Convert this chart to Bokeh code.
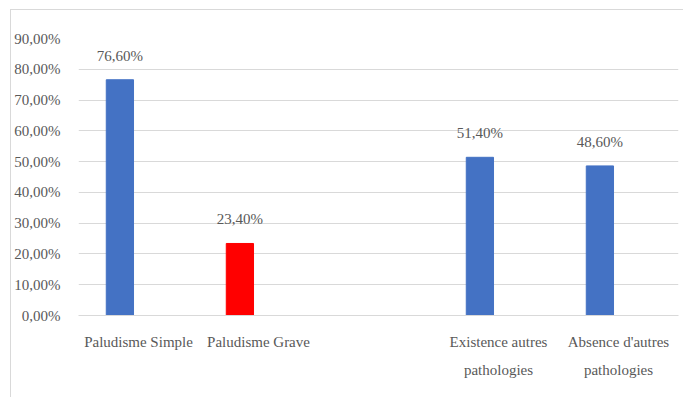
from bokeh.plotting import figure
from bokeh.models import FactorRange, FixedTicker, ColumnDataSource
from bokeh.transform import dodge
from bokeh.embed import file_html
from bokeh.resources import INLINE
from bokeh.core.properties import value

# Data
categories = ["Paludisme Simple", "Paludisme Grave", " ",
              "Existence autres\npathologies", "Absence d'autres\npathologies"]
bar_categories = ["Paludisme Simple", "Paludisme Grave",
                  "Existence autres\npathologies", "Absence d'autres\npathologies"]
values = [76.6, 23.4, 51.4, 48.6]
colors = ["#4472C4", "#FF0000", "#4472C4", "#4472C4"]
y_ticks = [0, 10, 20, 30, 40, 50, 60, 70, 80, 90]

def pct(v):
    return ("%.2f" % v).replace(".", ",") + "%"

labels = [pct(v) for v in values]

FONT = "Liberation Serif"
TXT = "#595959"
GRID = "#d9d9d9"

p = figure(width=673, height=388, x_range=FactorRange(factors=categories),
           y_range=(0, 90), output_backend="svg", toolbar_location=None,
           min_border_left=66, min_border_right=6, min_border_top=28,
           min_border_bottom=83)
p.margin = (9, 0, 0, 10)
p.styles = {"border-left": "1px solid #d9d9d9", "border-top": "1px solid #d9d9d9"}
p.outline_line_color = None
p.background_fill_color = "white"
p.border_fill_color = "white"

src = ColumnDataSource(dict(x=bar_categories, top=values, color=colors, label=labels))
bx = dodge("x", -0.155, range=p.x_range)
p.vbar(x=bx, top="top", width=0.227, color="color", source=src)
p.text(x=bx, y="top", text="label", source=src, y_offset=-24,
       text_align="center", text_baseline="middle",
       text_font=value(FONT), text_font_size="15px", text_color=TXT)

p.xgrid.grid_line_color = None
p.ygrid.grid_line_color = GRID
p.ygrid.grid_line_width = 1

p.yaxis.ticker = FixedTicker(ticks=y_ticks)
p.yaxis.major_label_overrides = {t: pct(t) for t in y_ticks}
p.yaxis.axis_line_color = None
p.yaxis.major_tick_line_color = None
p.yaxis.minor_tick_line_color = None
p.yaxis.major_label_standoff = 12
p.yaxis.major_label_text_font = FONT
p.yaxis.major_label_text_font_size = "15px"
p.yaxis.major_label_text_color = TXT

p.xaxis.axis_line_color = GRID
p.xaxis.major_tick_line_color = None
p.xaxis.minor_tick_line_color = None
p.xaxis.major_label_standoff = 12
p.xaxis.major_label_text_font = FONT
p.xaxis.major_label_text_font_size = "15px"
p.xaxis.major_label_text_color = TXT
p.xaxis.major_label_text_line_height = 1.75

open("out.html", "w").write(file_html(p, INLINE))
